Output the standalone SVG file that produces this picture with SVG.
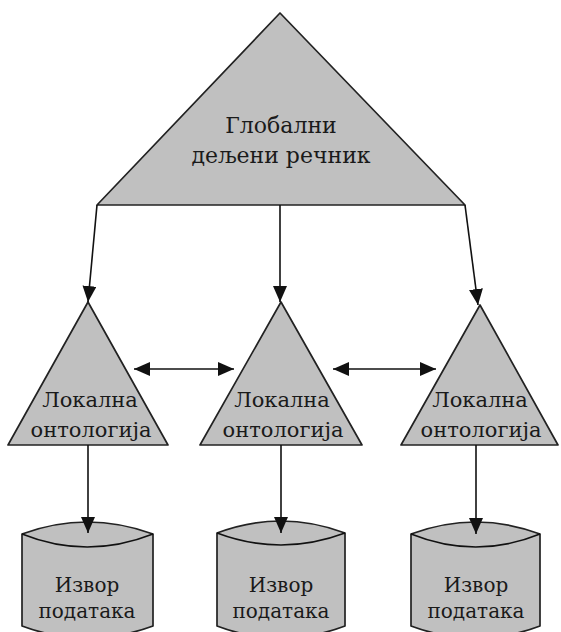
<svg xmlns="http://www.w3.org/2000/svg" width="561" height="632" viewBox="0 0 561 632">
<defs>
<marker id="ah" markerWidth="16" markerHeight="14" refX="16" refY="7" orient="auto" markerUnits="userSpaceOnUse" viewBox="0 0 16 14">
<path d="M0,0 L16,7 L0,14 Z" fill="#111"/>
</marker>
<marker id="ahs" markerWidth="16" markerHeight="14" refX="16" refY="7" orient="auto-start-reverse" markerUnits="userSpaceOnUse" viewBox="0 0 16 14">
<path d="M0,0 L16,7 L0,14 Z" fill="#111"/>
</marker>
</defs>
<style>
.shape{fill:#c0c0c0;stroke:#222;stroke-width:1.7;stroke-linejoin:round}
.line{fill:none;stroke:#111;stroke-width:1.6}
text{font-family:"DejaVu Serif","Liberation Serif",serif;fill:#1a1a1a;text-anchor:middle}
.big{font-size:22px}
.mid{font-size:21px}
.small{font-size:20px}
</style>
<rect width="561" height="632" fill="#fff"/>
<g id="global">
<polygon class="shape" points="280,13 465,205 97,205"/>
<text class="big" x="281" y="133">Глобални</text>
<text class="big" x="281" y="163">дељени речник</text>
</g>
<g id="local1">
<polygon class="shape" points="88,302 168,445 8,445"/>
<text class="mid" x="90" y="407">Локална</text>
<text class="mid" x="91" y="437">онтологија</text>
</g>
<g id="local2">
<polygon class="shape" points="281,302 362,445 200,445"/>
<text class="mid" x="282" y="407">Локална</text>
<text class="mid" x="283" y="437">онтологија</text>
</g>
<g id="local3">
<polygon class="shape" points="480,305 558,445 401,445"/>
<text class="mid" x="480" y="407">Локална</text>
<text class="mid" x="481" y="437">онтологија</text>
</g>
<g id="source1">
<path class="shape" d="M22,534 Q87,510 153,534 L153,626 Q87,650 22,626 Z"/>
<path class="line" d="M22,534 Q87,560 153,534"/>
<text class="small" x="87" y="592">Извор</text>
<text class="small" x="87" y="618">података</text>
</g>
<g id="source2">
<path class="shape" d="M217,533 Q281,509 345,533 L345,626 Q281,650 217,626 Z"/>
<path class="line" d="M217,533 Q281,557 345,533"/>
<text class="small" x="281" y="592">Извор</text>
<text class="small" x="281" y="618">података</text>
</g>
<g id="source3">
<path class="shape" d="M411,534 Q476,510 540,534 L540,626 Q476,650 411,626 Z"/>
<path class="line" d="M411,534 Q476,560 540,534"/>
<text class="small" x="476" y="592">Извор</text>
<text class="small" x="476" y="618">података</text>
</g>
<g id="connectors">
<line class="line" x1="97" y1="205" x2="88" y2="302" marker-end="url(#ah)"/>
<line class="line" x1="280" y1="205" x2="280" y2="302" marker-end="url(#ah)"/>
<line class="line" x1="465" y1="205" x2="478" y2="305" marker-end="url(#ah)"/>
<line class="line" x1="134" y1="369" x2="234" y2="369" marker-start="url(#ahs)" marker-end="url(#ah)"/>
<line class="line" x1="333" y1="369" x2="436" y2="369" marker-start="url(#ahs)" marker-end="url(#ah)"/>
<line class="line" x1="88" y1="445" x2="88" y2="533" marker-end="url(#ah)"/>
<line class="line" x1="281" y1="445" x2="281" y2="533" marker-end="url(#ah)"/>
<line class="line" x1="476" y1="445" x2="476" y2="534" marker-end="url(#ah)"/>
</g>
</svg>
